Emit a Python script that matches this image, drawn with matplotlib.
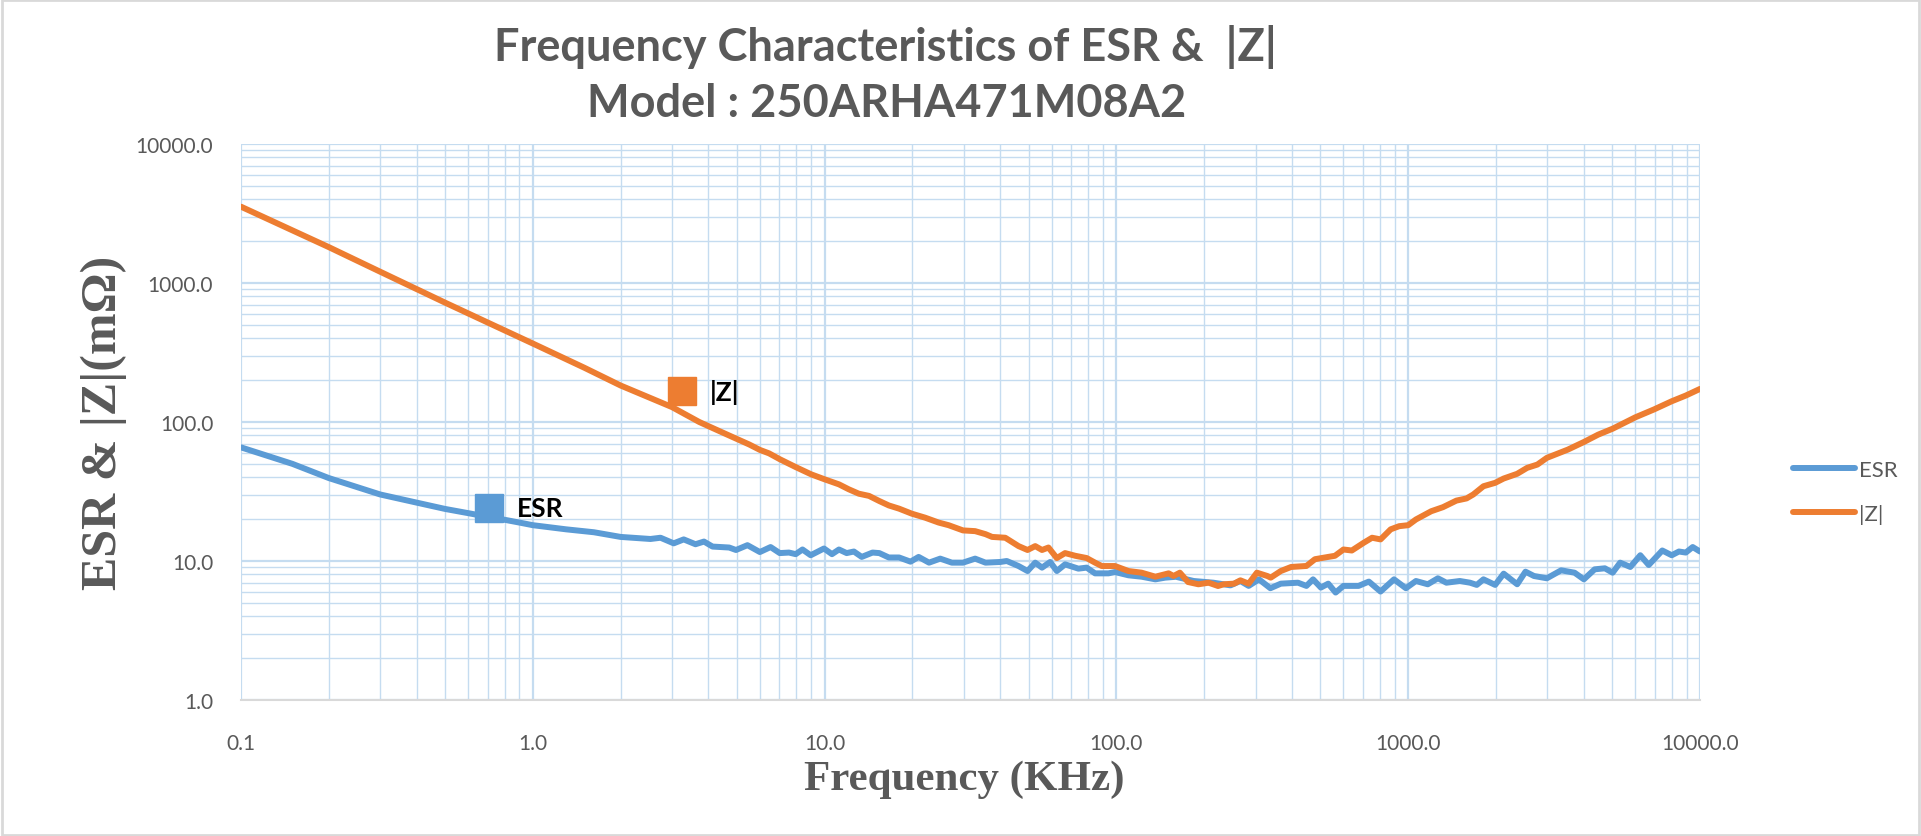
import matplotlib
matplotlib.use("Agg")
import matplotlib.pyplot as plt
from matplotlib.patches import Rectangle
from matplotlib.ticker import LogLocator, NullFormatter

# ESR readings (frequency in KHz, value in mOhm)
esr_freq = [0.1, 0.15, 0.2, 0.3, 0.4, 0.5, 0.6, 0.7, 0.8, 0.9, 1.0, 1.3, 1.62, 2.0,
            2.53, 2.74, 3.04, 3.29, 3.61, 3.86, 4.13, 4.71, 4.97, 5.44, 6.0, 6.53,
            7.02, 7.55, 7.96, 8.4, 8.96, 9.95, 10.6, 11.2, 11.9, 12.6, 13.4, 14.6,
            15.4, 16.6, 18.0, 19.7, 21.0, 22.8, 24.9, 27.3, 29.8, 32.8, 35.6, 40.0,
            42.1, 46.2, 49.6, 52.7, 55.6, 59.3, 62.5, 66.7, 74.1, 79.1, 84.5, 93.9,
            98.9, 110, 122, 136, 147, 160, 184, 215, 246, 266, 284, 308, 337, 366,
            419, 448, 472, 502, 532, 564, 600, 676, 733, 804, 894, 982, 1063, 1167,
            1264, 1352, 1503, 1629, 1718, 1811, 1986, 2124, 2363, 2523, 2698, 2986,
            3343, 3716, 4000, 4355, 4719, 5020, 5325, 5770, 6243, 6673, 7425, 8000,
            8470, 8940, 9440, 10000]
esr_vals = [65.7, 50.0, 39.5, 30.1, 26.3, 23.7, 22.1, 20.8, 19.8, 18.9, 18.1, 16.9, 16.1, 14.9,
            14.4, 14.7, 13.4, 14.3, 13.2, 13.8, 12.7, 12.5, 12.0, 13.0, 11.6, 12.6,
            11.4, 11.5, 11.2, 12.1, 11.0, 12.3, 11.2, 12.1, 11.4, 11.7, 10.7, 11.5,
            11.4, 10.6, 10.6, 9.89, 10.7, 9.73, 10.4, 9.73, 9.73, 10.4, 9.73, 9.84,
            10.0, 9.2, 8.47, 9.73, 8.96, 9.84, 8.47, 9.46, 8.81, 8.96, 8.15, 8.15,
            8.33, 7.89, 7.71, 7.38, 7.59, 7.7, 7.18, 6.98, 6.68, 7.18, 6.62, 7.38, 6.37, 6.87,
            6.98, 6.62, 7.38, 6.44, 6.87, 5.93, 6.62, 6.62, 7.11, 6.03, 7.38, 6.37, 7.18, 6.8,
            7.51, 6.98, 7.18, 6.98, 6.73, 7.38, 6.73, 8.11, 6.8, 8.38, 7.8, 7.51,
            8.57, 8.24, 7.38, 8.71, 8.86, 8.24, 9.73, 9.06, 11.0, 9.36, 11.9, 11.0,
            11.7, 11.5, 12.6, 11.7]

# |Z| readings (frequency in KHz, value in mOhm)
z_freq = [0.1, 0.2, 0.3, 0.5, 0.7, 1.0, 1.5, 2.0, 3.0, 3.72, 4.36, 4.97, 5.51, 6.0,
          6.45, 7.02, 7.96, 9.0, 10, 11.2, 12.1, 13.1, 14.2, 15.4, 16.6, 18, 19.9,
          22.1, 24.6, 26.6, 29.8, 32.8, 35.6, 37.5, 41.6, 46.2, 49.6, 52.7, 55.6,
          58.5, 62.5, 66.7, 72.3, 79.1, 84.5, 89.1, 98.9, 110, 122, 136, 151, 157,
          165, 176, 191, 207, 223, 233, 253, 266, 284, 303, 329, 338, 366, 397, 448,
          479, 532, 561, 600, 641, 703, 752, 804, 871, 931, 1000, 1063, 1199, 1316,
          1463, 1585, 1671, 1811, 1986, 2124, 2363, 2557, 2771, 2986, 3524, 4000,
          4477, 5020, 6000, 6948, 8000, 8940, 10000]
z_vals = [3540, 1811, 1205, 723, 520, 367, 246, 183, 128, 100, 86, 76, 69, 63,
          59.5, 54, 47.4, 42, 38.7, 35.6, 32.8, 30.5, 29.4, 27, 25.1, 23.8, 21.9,
          20.5, 18.9, 18.1, 16.6, 16.4, 15.6, 14.9, 14.7, 12.8, 12.0, 12.8, 12.0,
          12.5, 10.5, 11.4, 10.9, 10.5, 9.73, 9.2, 9.2, 8.47, 8.24, 7.71, 8.15, 7.8,
          8.24, 7.06, 6.8, 6.98, 6.61, 6.8, 6.87, 7.26, 6.87, 8.24, 7.8, 7.59, 8.47, 9.06, 9.21,
          10.3, 10.7, 10.9, 12.1, 11.9, 13.5, 14.7, 14.3, 16.9, 17.8, 18.1, 19.9, 22.8, 24.4,
          27.2, 28.2, 30.1, 34.5, 36.5, 39.2, 42.4, 46.8, 49.4, 55.2, 63.3, 71.8,
          81.1, 89.5, 108, 123, 141, 155, 173]

# data-label markers placed on the curves
esr_label_point = (0.71, 24.0)
z_label_point = (3.25, 166.0)

xticks = [0.1, 1, 10, 100, 1000, 10000]
xtick_labels = ["0.1", "1.0", "10.0", "100.0", "1000.0", "10000.0"]
yticks = [1, 10, 100, 1000, 10000]
ytick_labels = ["1.0", "10.0", "100.0", "1000.0", "10000.0"]

blue = "#5B9BD5"
orange = "#ED7D31"
grid_c = "#C5DCF0"
gray = "#595959"
sans = ["Lato", "DejaVu Sans"]
serif = ["Liberation Serif", "DejaVu Serif"]

fig = plt.figure(figsize=(19.21, 8.37), dpi=100)
ax = fig.add_axes([241 / 1921, 1 - 701 / 837, 1459 / 1921, 556 / 837])

ax.plot(esr_freq, esr_vals, color=blue, lw=4.3, label="ESR", solid_capstyle="round",
        solid_joinstyle="round")
ax.plot(z_freq, z_vals, color=orange, lw=4.3, label="|Z|", solid_capstyle="round",
        solid_joinstyle="round")

ax.set_xscale("log")
ax.set_yscale("log")
ax.set_xlim(0.1, 10000)
ax.set_ylim(1, 10000)

ax.set_xticks(xticks, labels=xtick_labels)
ax.set_yticks(yticks, labels=ytick_labels)
ax.xaxis.set_minor_locator(LogLocator(base=10, subs=range(2, 10), numticks=100))
ax.yaxis.set_minor_locator(LogLocator(base=10, subs=range(2, 10), numticks=100))
ax.xaxis.set_minor_formatter(NullFormatter())
ax.yaxis.set_minor_formatter(NullFormatter())
ax.tick_params(which="both", length=0)
ax.tick_params(axis="x", pad=24, labelsize=15, labelcolor=gray)
ax.tick_params(axis="y", pad=20, labelsize=15, labelcolor=gray)
for lab in ax.get_xticklabels() + ax.get_yticklabels():
    lab.set_fontfamily(sans)

ax.grid(True, which="major", color=grid_c, lw=1.6)
ax.grid(True, which="minor", color=grid_c, lw=1.0)
ax.set_axisbelow(True)
for side in ["top", "left", "right"]:
    ax.spines[side].set_visible(False)
ax.spines["bottom"].set_color("#D9D9D9")
ax.spines["bottom"].set_linewidth(1.5)

# data labels with legend keys
ax.plot(*esr_label_point, marker="s", ms=20, color=blue, zorder=5)
ax.plot(*z_label_point, marker="s", ms=20, color=orange, zorder=5)
ax.annotate("ESR", esr_label_point, xytext=(20, 0), textcoords="offset points",
            ha="left", va="center", fontsize=19, fontweight="bold",
            family=sans, color="black")
ax.annotate("|Z|", z_label_point, xytext=(20, 0), textcoords="offset points",
            ha="left", va="center", fontsize=19, fontweight="bold",
            family=sans, color="black")

leg = ax.legend(loc="center left", bbox_to_anchor=(1773 / 1921, 1 - 493 / 837),
                bbox_transform=fig.transFigure, frameon=False, handlelength=2.8,
                handletextpad=0.15, labelspacing=1.1,
                prop={"family": sans, "size": 16})
for t in leg.get_texts():
    t.set_color(gray)

fig.text(885 / 1921, 1 - 47 / 837, "Frequency Characteristics of ESR &  |Z|",
         ha="center", va="center", fontsize=32.5, fontweight="bold",
         family=sans, color=gray)
fig.text(887 / 1921, 1 - 104 / 837, "Model : 250ARHA471M08A2",
         ha="center", va="center", fontsize=32.5, fontweight="bold",
         family=sans, color=gray)
fig.text(964 / 1921, 1 - 780 / 837, "Frequency (KHz)", ha="center", va="center",
         fontsize=31, fontweight="bold", family=serif, color=gray)
fig.text(104 / 1921, 1 - 423 / 837, "ESR & |Z|(m\u03a9)", ha="center", va="center",
         rotation=90, fontsize=36, fontweight="bold", family=serif, color=gray)

fig.patches.append(Rectangle((0.001, 0.001), 0.998, 0.998, transform=fig.transFigure,
                             fill=False, edgecolor="#D9D9D9", lw=2))

fig.savefig("out.png", dpi=100)
